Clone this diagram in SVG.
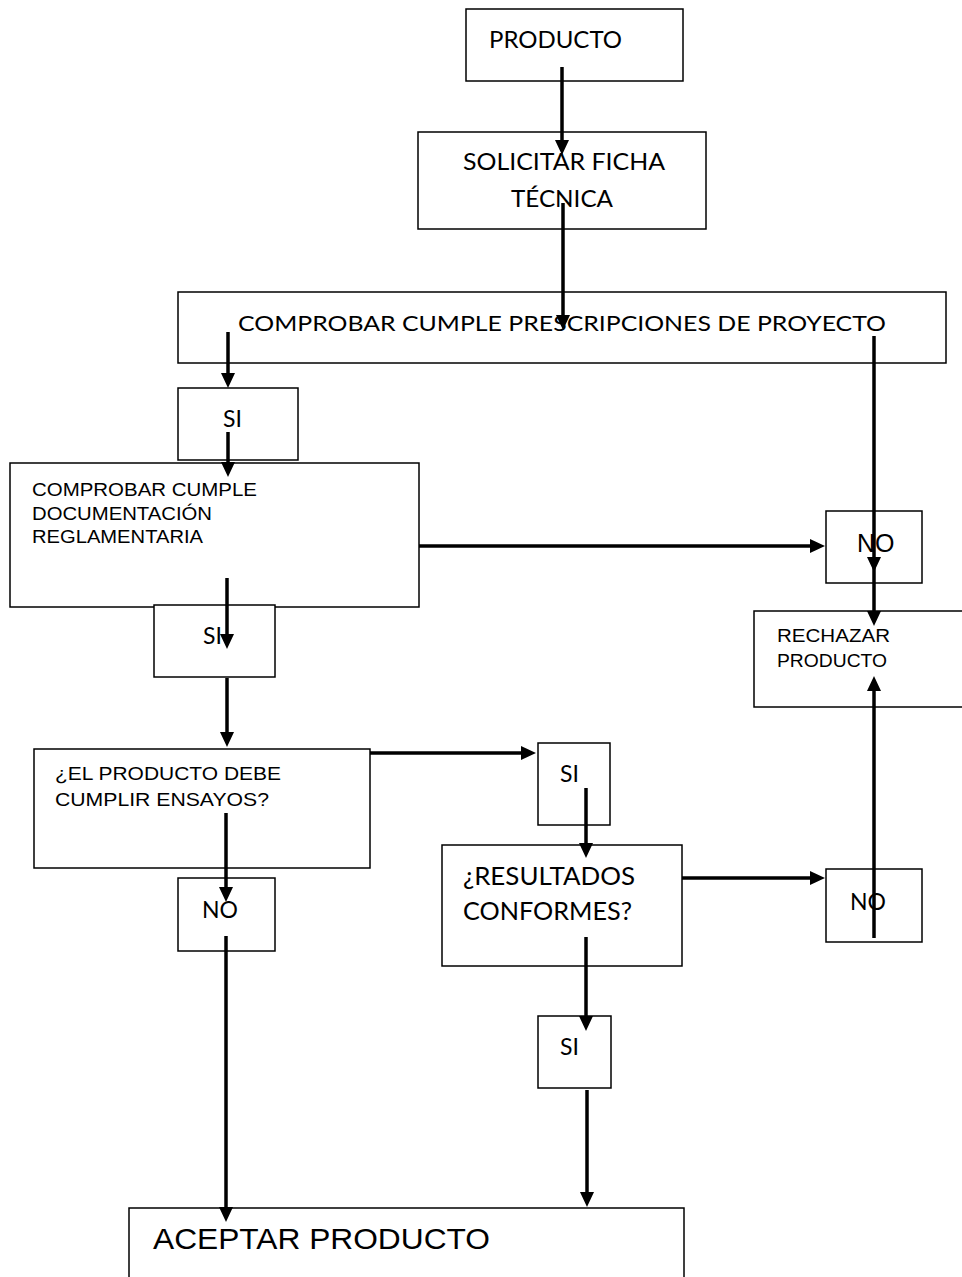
<svg xmlns="http://www.w3.org/2000/svg" width="962" height="1277" viewBox="0 0 962 1277">
<style>
.box{fill:#fff;stroke:#000;stroke-width:1.5}
.c{stroke:#000;stroke-width:3.5;fill:none}
.cal{font-family:Lato,"Open Sans",sans-serif;fill:#000}
.ari{font-family:"Liberation Sans",Arial,sans-serif;fill:#000}
</style>
<defs>
<marker id="ah" markerUnits="userSpaceOnUse" markerWidth="18" markerHeight="16" refX="10" refY="7" orient="auto">
<path d="M0,0 L15,7 L0,14 z" fill="#000"/>
</marker>
</defs>
<rect width="962" height="1277" fill="#fff"/>
<g id="n-producto"><rect class="box" x="466" y="9" width="217" height="72"/><text class="cal" x="489" y="48" font-size="24" textLength="133" lengthAdjust="spacingAndGlyphs">PRODUCTO</text></g>
<g id="n-solicitar"><rect class="box" x="418" y="132" width="288" height="97"/><text class="cal" x="463" y="170" font-size="24" textLength="202" lengthAdjust="spacingAndGlyphs">SOLICITAR FICHA</text><text class="cal" x="511" y="207" font-size="24" textLength="102" lengthAdjust="spacingAndGlyphs">TÉCNICA</text></g>
<g id="n-prescripciones"><rect class="box" x="178" y="292" width="768" height="71"/><text class="cal" x="238" y="331" font-size="22" textLength="648" lengthAdjust="spacingAndGlyphs">COMPROBAR CUMPLE PRESCRIPCIONES DE PROYECTO</text></g>
<g id="n-si1"><rect class="box" x="178" y="388" width="120" height="72"/><text class="cal" x="223" y="427" font-size="23">SI</text></g>
<g id="n-documentacion"><rect class="box" x="10" y="463" width="409" height="144"/><text class="ari" x="32" y="496" font-size="19" textLength="225" lengthAdjust="spacingAndGlyphs">COMPROBAR CUMPLE</text><text class="ari" x="32" y="520" font-size="19" textLength="180" lengthAdjust="spacingAndGlyphs">DOCUMENTACIÓN</text><text class="ari" x="32" y="543" font-size="19" textLength="171" lengthAdjust="spacingAndGlyphs">REGLAMENTARIA</text></g>
<g id="n-si2"><rect class="box" x="154" y="605" width="121" height="72"/><text class="cal" x="203" y="644" font-size="23">SI</text></g>
<g id="n-no1"><rect class="box" x="826" y="511" width="96" height="72"/><text class="ari" x="857" y="552" font-size="25">NO</text></g>
<g id="n-rechazar"><rect class="box" x="754" y="611" width="215" height="96"/><text class="ari" x="777" y="642" font-size="18" textLength="113" lengthAdjust="spacingAndGlyphs">RECHAZAR</text><text class="ari" x="777" y="667" font-size="18" textLength="110" lengthAdjust="spacingAndGlyphs">PRODUCTO</text></g>
<g id="n-ensayos"><rect class="box" x="34" y="749" width="336" height="119"/><text class="ari" x="55" y="780" font-size="18" textLength="226" lengthAdjust="spacingAndGlyphs">¿EL PRODUCTO DEBE</text><text class="ari" x="55" y="806" font-size="18" textLength="214" lengthAdjust="spacingAndGlyphs">CUMPLIR ENSAYOS?</text></g>
<g id="n-si3"><rect class="box" x="538" y="743" width="72" height="82"/><text class="cal" x="560" y="782" font-size="23">SI</text></g>
<g id="n-resultados"><rect class="box" x="442" y="845" width="240" height="121"/><text class="cal" x="463" y="885" font-size="25" textLength="172" lengthAdjust="spacingAndGlyphs">¿RESULTADOS</text><text class="cal" x="463" y="920" font-size="25" textLength="169" lengthAdjust="spacingAndGlyphs">CONFORMES?</text></g>
<g id="n-no2"><rect class="box" x="178" y="878" width="97" height="73"/><text class="cal" x="202" y="918" font-size="23">NO</text></g>
<g id="n-no3"><rect class="box" x="826" y="869" width="96" height="73"/><text class="cal" x="850" y="910" font-size="23">NO</text></g>
<g id="n-si4"><rect class="box" x="538" y="1016" width="73" height="72"/><text class="cal" x="560" y="1055" font-size="23">SI</text></g>
<g id="n-aceptar"><rect class="box" x="129" y="1208" width="555" height="80"/><text class="ari" x="153" y="1249" font-size="30" textLength="337" lengthAdjust="spacingAndGlyphs">ACEPTAR PRODUCTO</text></g>
<g id="connectors">
<line class="c" x1="562" y1="67" x2="562" y2="150" marker-end="url(#ah)"/>
<line class="c" x1="563" y1="203" x2="563" y2="325" marker-end="url(#ah)"/>
<line class="c" x1="228" y1="332" x2="228" y2="383" marker-end="url(#ah)"/>
<line class="c" x1="874" y1="336" x2="874" y2="567" marker-end="url(#ah)"/>
<line class="c" x1="874" y1="562" x2="874" y2="621" marker-end="url(#ah)"/>
<line class="c" x1="228" y1="432" x2="228" y2="472" marker-end="url(#ah)"/>
<line class="c" x1="419" y1="546" x2="820" y2="546" marker-end="url(#ah)"/>
<line class="c" x1="227" y1="578" x2="227" y2="644" marker-end="url(#ah)"/>
<line class="c" x1="227" y1="678" x2="227" y2="742" marker-end="url(#ah)"/>
<line class="c" x1="370" y1="753" x2="531" y2="753" marker-end="url(#ah)"/>
<line class="c" x1="226" y1="813" x2="226" y2="897" marker-end="url(#ah)"/>
<line class="c" x1="586" y1="788" x2="586" y2="853" marker-end="url(#ah)"/>
<line class="c" x1="682" y1="878" x2="820" y2="878" marker-end="url(#ah)"/>
<line class="c" x1="874" y1="938" x2="874" y2="681" marker-end="url(#ah)"/>
<line class="c" x1="586" y1="937" x2="586" y2="1026" marker-end="url(#ah)"/>
<line class="c" x1="226" y1="936" x2="226" y2="1217" marker-end="url(#ah)"/>
<line class="c" x1="587" y1="1090" x2="587" y2="1202" marker-end="url(#ah)"/>
</g>
</svg>
